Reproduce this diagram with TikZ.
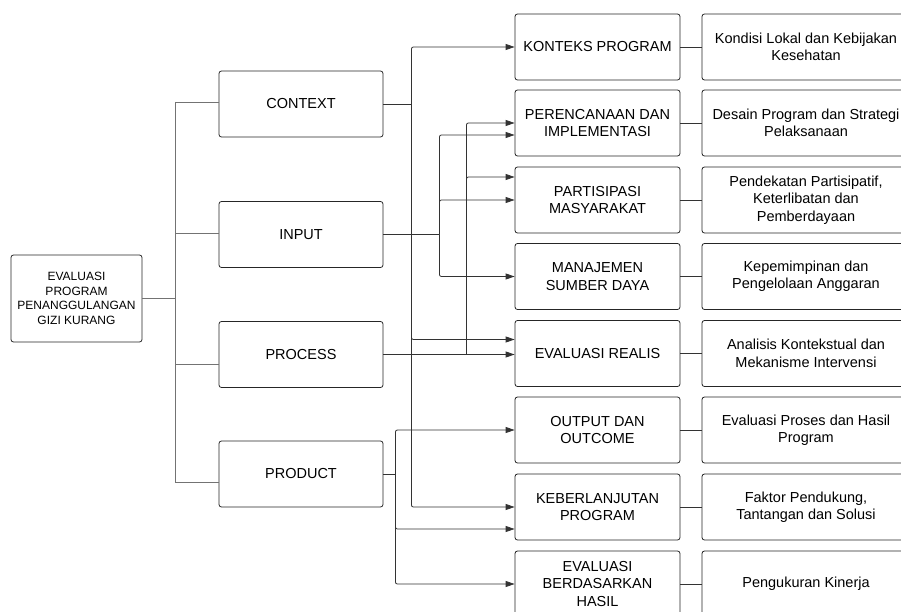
\documentclass[tikz,border=0pt]{standalone}
\usepackage{fontspec}
\setmainfont{Liberation Sans}
\usetikzlibrary{arrows.meta}
\begin{document}
\begin{tikzpicture}[x=1pt,y=-1pt,
  box/.style={draw=black!85,line width=0.8pt,rounded corners=2.5pt,align=center,inner sep=0pt,font=\fontsize{14.5}{17.5}\selectfont},
  c2/.style={box,minimum width=164pt,minimum height=66pt},
  c3/.style={box,minimum width=165pt,minimum height=66pt},
  c4/.style={box,minimum width=208pt,minimum height=66pt},
  tree/.style={draw=black!55,line width=0.8pt},
  link/.style={draw=black!80,line width=0.8pt},
  conn/.style={draw=black!80,line width=0.8pt,rounded corners=2pt,-{Triangle[length=9pt,width=6pt]}}]
\useasboundingbox (0,0) rectangle (901,612);
\clip (0,0) rectangle (901,612);
\fill[white] (0,0) rectangle (901,612);

% root
\node[box,minimum width=131pt,minimum height=87pt,font=\fontsize{12}{14.7}\selectfont] (root) at (76.5,298.5) {EVALUASI\\PROGRAM\\PENANGGULANGAN\\GIZI KURANG};

% column 2
\node[c2] (ctx)  at (301,104)   {CONTEXT};
\node[c2] (inp)  at (301,234.5) {INPUT};
\node[c2] (proc) at (301,354.5) {PROCESS};
\node[c2] (prod) at (301,474)   {PRODUCT};

% column 3
\node[c3] (kon)  at (597.5,47)    {KONTEKS PROGRAM};
\node[c3] (per)  at (597.5,123)   {PERENCANAAN DAN\\IMPLEMENTASI};
\node[c3] (part) at (597.5,200)   {PARTISIPASI\\MASYARAKAT};
\node[c3] (man)  at (597.5,276.5) {MANAJEMEN\\SUMBER DAYA};
\node[c3] (er)   at (597.5,353.5) {EVALUASI REALIS};
\node[c3] (out)  at (597.5,430)   {OUTPUT DAN\\OUTCOME};
\node[c3] (keb)  at (597.5,507)   {KEBERLANJUTAN\\PROGRAM};
\node[c3] (ebh)  at (597.5,584)   {EVALUASI\\BERDASARKAN\\HASIL};

% column 4
\node[c4] (kon4)  at (806,47)    {Kondisi Lokal dan Kebijakan\\Kesehatan};
\node[c4] (per4)  at (806,123)   {Desain Program dan Strategi\\Pelaksanaan};
\node[c4] (part4) at (806,200)   {Pendekatan Partisipatif,\\Keterlibatan dan\\Pemberdayaan};
\node[c4] (man4)  at (806,276.5) {Kepemimpinan dan\\Pengelolaan Anggaran};
\node[c4] (er4)   at (806,353.5) {Analisis Kontekstual dan\\Mekanisme Intervensi};
\node[c4] (out4)  at (806,430)   {Evaluasi Proses dan Hasil\\Program};
\node[c4] (keb4)  at (806,507)   {Faktor Pendukung,\\Tantangan dan Solusi};
\node[c4] (ebh4)  at (806,584)   {Pengukuran Kinerja};

% tree from root
\coordinate (j0) at (175,102);
\coordinate (j1) at (175,233);
\coordinate (j2) at (175,364);
\coordinate (j3) at (175,482);
\draw[tree] (root.east) -- (root.east -| j0);
\draw[tree] (j0) -- (j3);
\draw[tree] (j0) -- (j0 -| ctx.west);
\draw[tree] (j1) -- (j1 -| inp.west);
\draw[tree] (j2) -- (j2 -| proc.west);
\draw[tree] (j3) -- (j3 -| prod.west);

% column 3 -> column 4
\foreach \a in {kon,per,part,man,er,out,keb,ebh}{
  \draw[link] (\a.east) -- (\a4.west);
}

% CONTEXT
\coordinate (cb) at ([xshift=28pt]ctx.east);
\draw[link] (ctx.east) -- (cb);
\draw[conn] (cb) |- (kon.west);
\draw[conn] (cb) |- ([yshift=14pt]er.west);
\draw[conn] (cb) |- (keb.west);

% INPUT
\coordinate (ib) at ([xshift=56pt]inp.east);
\draw[link] (inp.east) -- (ib);
\draw[conn] (ib) |- ([yshift=-12pt]per.west);
\draw[conn] (ib) |- (part.west);
\draw[conn] (ib) |- (man.west);

% PROCESS
\coordinate (pb) at ([xshift=83pt]proc.east);
\draw[conn] (proc.east) -- (proc.east -| er.west);
\draw[conn] (pb) |- (per.west);
\draw[conn] (pb) |- ([yshift=23pt]part.west);

% PRODUCT
\coordinate (db) at ([xshift=12pt]prod.east);
\draw[link] (prod.east) -- (db);
\draw[conn] (db) |- (out.west);
\draw[conn] (db) |- ([yshift=-22pt]keb.west);
\draw[conn] (db) |- (ebh.west);
\end{tikzpicture}
\end{document}
